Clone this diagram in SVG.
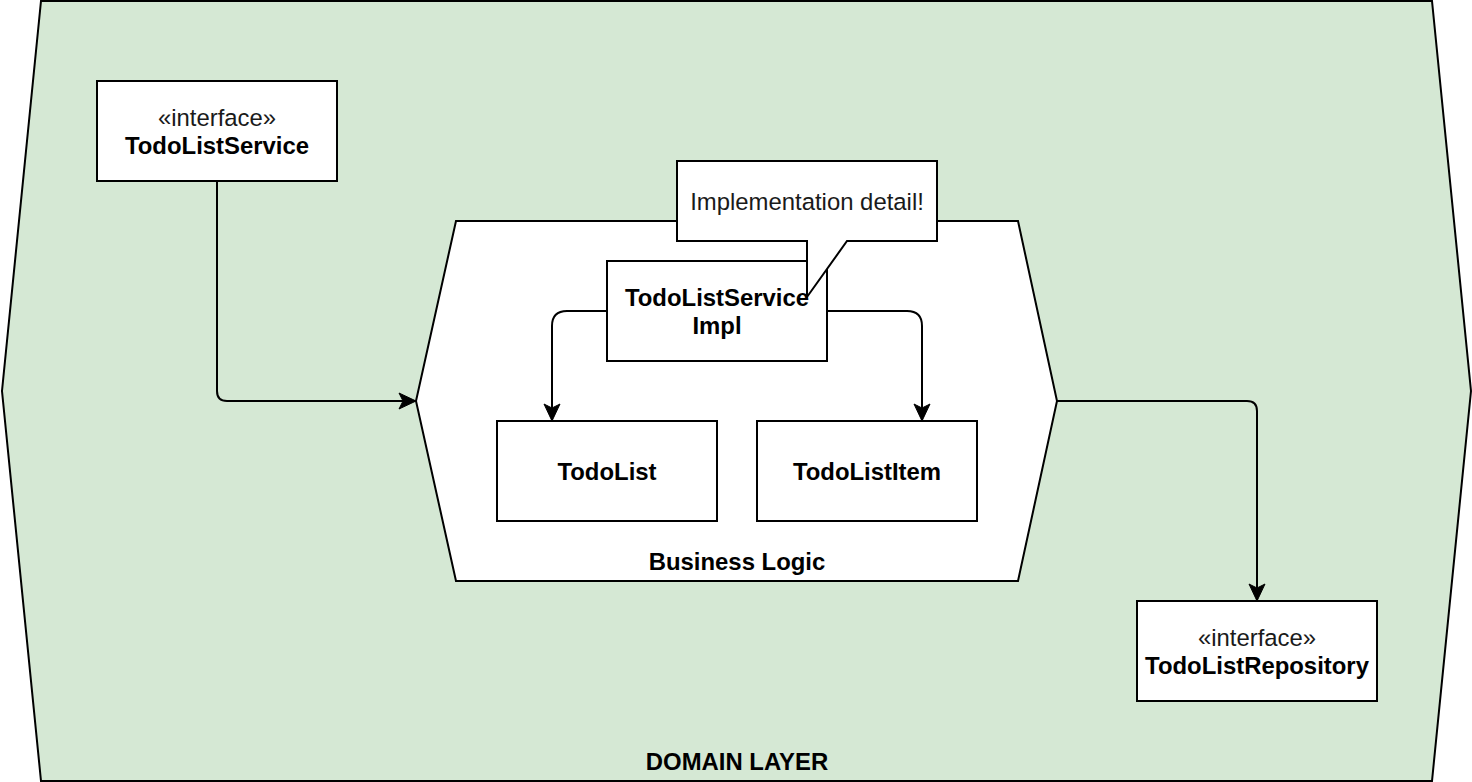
<svg xmlns="http://www.w3.org/2000/svg" width="1472" height="782" viewBox="0 0 1472 782">
<style>
.shape{stroke:#000;stroke-width:2;}
.box{fill:#fff;stroke:#000;stroke-width:2;}
.t{font-family:"Liberation Sans",Arial,sans-serif;font-size:23.9px;text-anchor:middle;fill:#000;}
.b{font-weight:bold;}
.r{fill:#1a1a1a;}
.conn{fill:none;stroke:#000;stroke-width:2;}
</style>
<defs>
<marker id="arr" markerUnits="userSpaceOnUse" markerWidth="20" markerHeight="20" viewBox="0 0 20 20" refX="18" refY="10" orient="auto">
<path d="M1,2 L18,10 L1,18 L5,10 Z" fill="#000" stroke="#000" stroke-width="1" stroke-linejoin="miter"/>
</marker>
</defs>
<g id="domain-layer">
<polygon class="shape" fill="#d5e8d4" points="41,1 1432,1 1471,391 1432,781 41,781 2,391"/>
<text class="t b" x="737" y="770">DOMAIN LAYER</text>
</g>
<g id="business-logic">
<polygon class="shape" fill="#fff" points="456,221 1018,221 1057,401 1018,581 456,581 416,401"/>
<text class="t b" x="737" y="570">Business Logic</text>
</g>
<g id="todolist-service">
<rect class="box" x="97" y="81" width="240" height="100"/>
<text class="t r" x="217" y="126">«interface»</text>
<text class="t b" x="217" y="154">TodoListService</text>
</g>
<g id="todolist-repository">
<rect class="box" x="1137" y="601" width="240" height="100"/>
<text class="t r" x="1257" y="646">«interface»</text>
<text class="t b" x="1257" y="674">TodoListRepository</text>
</g>
<g id="todolist-service-impl">
<rect class="box" x="607" y="261" width="220" height="100"/>
<text class="t b" x="717" y="306">TodoListService</text>
<text class="t b" x="717" y="334">Impl</text>
</g>
<g id="todolist">
<rect class="box" x="497" y="421" width="220" height="100"/>
<text class="t b" x="607" y="480">TodoList</text>
</g>
<g id="todolist-item">
<rect class="box" x="757" y="421" width="220" height="100"/>
<text class="t b" x="867" y="480">TodoListItem</text>
</g>
<g id="callout">
<path class="box" d="M677,161 L937,161 L937,241 L847,241 L807,297 L807,241 L677,241 Z"/>
<text class="t r" x="807" y="210">Implementation detail!</text>
</g>
<g id="connectors">
<path class="conn" d="M217,181 L217,391 Q217,401 227,401 L416,401" marker-end="url(#arr)"/>
<path class="conn" d="M1057,401 L1247,401 Q1257,401 1257,411 L1257,601" marker-end="url(#arr)"/>
<path class="conn" d="M607,311 L567,311 Q552,311 552,326 L552,421" marker-end="url(#arr)"/>
<path class="conn" d="M827,311 L907,311 Q922,311 922,326 L922,421" marker-end="url(#arr)"/>
</g>
</svg>
